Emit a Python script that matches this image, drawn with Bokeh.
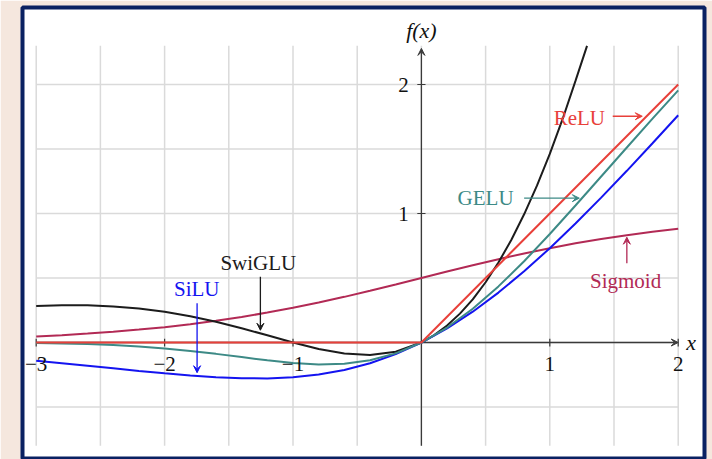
from bokeh.plotting import figure
from bokeh.models import Range1d, Arrow, VeeHead, ColumnDataSource
from bokeh.core.properties import value
from bokeh.embed import file_html
from bokeh.resources import INLINE

# Sample positions and function values of the activation curves
X = [-3.0, -2.8, -2.6, -2.4, -2.2, -2.0, -1.8, -1.6, -1.4, -1.2, -1.0, -0.8, -0.6,
     -0.4, -0.2, 0.0, 0.2, 0.4, 0.6, 0.8, 1.0, 1.2, 1.4, 1.6, 1.8, 2.0]
SIGMOID = [0.047, 0.057, 0.069, 0.083, 0.100, 0.119, 0.142, 0.168, 0.198, 0.232, 0.269,
           0.310, 0.354, 0.401, 0.450, 0.500, 0.550, 0.599, 0.646, 0.690, 0.731, 0.769,
           0.802, 0.832, 0.858, 0.881]
SILU = [-0.142, -0.160, -0.180, -0.200, -0.220, -0.238, -0.255, -0.269, -0.277, -0.278,
        -0.269, -0.248, -0.213, -0.161, -0.090, 0.0, 0.110, 0.239, 0.387, 0.552, 0.731,
        0.922, 1.123, 1.331, 1.545, 1.762]
GELU = [-0.004, -0.007, -0.012, -0.020, -0.031, -0.046, -0.065, -0.088, -0.113, -0.138,
        -0.159, -0.170, -0.165, -0.138, -0.084, 0.0, 0.116, 0.262, 0.435, 0.630, 0.841,
        1.062, 1.287, 1.512, 1.735, 1.954]
SWIGLU_X = [-3.0, -2.8, -2.6, -2.4, -2.2, -2.0, -1.8, -1.6, -1.4, -1.2, -1.0, -0.8, -0.6,
            -0.4, -0.2, 0.0, 0.1, 0.2, 0.3, 0.4, 0.5, 0.6, 0.7, 0.8, 0.9, 1.0, 1.1, 1.2, 1.29]
SWIGLU = [0.284, 0.289, 0.288, 0.280, 0.264, 0.238, 0.204, 0.161, 0.111, 0.056, 0.0,
          -0.050, -0.085, -0.097, -0.072, 0.0, 0.058, 0.132, 0.224, 0.335, 0.467, 0.620,
          0.795, 0.994, 1.216, 1.462, 1.733, 2.028, 2.300]
RELU_X = [-3.0, 0.0, 2.0]
RELU = [0.0, 0.0, 2.0]

X_TICKS = [-3, -2, -1, 1, 2]
X_TICK_LABELS = ["\u22123", "\u22122", "\u22121", "1", "2"]
Y_TICKS = [1, 2]
Y_TICK_LABELS = ["1", "2"]
GRID_X = [-3.0, -2.5, -2.0, -1.5, -1.0, -0.5, 0.0, 0.5, 1.0, 1.5, 2.0]
GRID_Y = [-0.5, 0.0, 0.5, 1.0, 1.5, 2.0]
X_LIM = (-3.0, 2.0)
Y_LIM = (-0.8, 2.3)

C_RELU = "#e8403a"
C_GELU = "#3d8a86"
C_SILU = "#1414f0"
C_SIG = "#b22a55"
C_SWI = "#1c1c1c"
C_AXIS = "#3a3a3a"
C_GRID = "#dadada"
SERIF = value("Liberation Serif")
FS = "21px"

p = figure(width=712, height=459, output_backend="svg", toolbar_location=None,
           x_range=Range1d(-3.1067, 2.2048), y_range=Range1d(-0.8991, 2.597),
           x_axis_location=None, y_axis_location=None,
           min_border_left=22, min_border_right=8, min_border_top=7, min_border_bottom=1,
           background_fill_color="white", border_fill_color="#f5e7de",
           outline_line_color="#0a2162", outline_line_width=4)
p.grid.visible = False

# grid (drawn beneath everything else)
p.segment(x0=GRID_X, y0=[Y_LIM[0]] * len(GRID_X), x1=GRID_X, y1=[Y_LIM[1]] * len(GRID_X),
          line_color=C_GRID, line_width=1.5, level="underlay")
p.segment(x0=[X_LIM[0]] * len(GRID_Y), y0=GRID_Y, x1=[X_LIM[1]] * len(GRID_Y), y1=GRID_Y,
          line_color=C_GRID, line_width=1.5, level="underlay")

# axes through the origin, kept below the curves
p.add_layout(Arrow(end=VeeHead(size=7, fill_color=C_AXIS, line_color=C_AXIS, line_width=1),
                   x_start=X_LIM[0], y_start=0, x_end=X_LIM[1], y_end=0,
                   line_color=C_AXIS, line_width=1.3, level="underlay"))
p.add_layout(Arrow(end=VeeHead(size=7, fill_color=C_AXIS, line_color=C_AXIS, line_width=1),
                   x_start=0, y_start=Y_LIM[0], x_end=0, y_end=2.28,
                   line_color=C_AXIS, line_width=1.3, level="underlay"))
p.segment(x0=X_TICKS, y0=[-0.03] * len(X_TICKS), x1=X_TICKS, y1=[0.03] * len(X_TICKS),
          line_color=C_AXIS, line_width=1.2, level="underlay")
p.segment(x0=[-0.032] * len(Y_TICKS), y0=Y_TICKS, x1=[0.032] * len(Y_TICKS), y1=Y_TICKS,
          line_color=C_AXIS, line_width=1.2, level="underlay")

# curves
p.line(X, SIGMOID, line_color=C_SIG, line_width=2)
p.line(SWIGLU_X, SWIGLU, line_color=C_SWI, line_width=2)
p.line(X, SILU, line_color=C_SILU, line_width=2)
p.line(X, GELU, line_color=C_GELU, line_width=2)
p.line(RELU_X, RELU, line_color=C_RELU, line_width=2)

# tick labels
p.text(x=X_TICKS, y=[-0.165] * len(X_TICKS), text=X_TICK_LABELS, text_font=SERIF,
       text_font_size=FS, text_align="center", text_baseline="middle", text_color="#111111")
p.text(x=[-0.14] * len(Y_TICKS), y=Y_TICKS, text=Y_TICK_LABELS, text_font=SERIF,
       text_font_size=FS, text_align="center", text_baseline="middle", text_color="#111111")
p.text(x=[0.0], y=[2.42], text=["f(x)"], text_font=SERIF, text_font_style="italic",
       text_font_size="22px", text_align="center", text_baseline="middle", text_color="#111111")
p.text(x=[2.1], y=[0.0], text=["x"], text_font=SERIF, text_font_style="italic",
       text_font_size="22px", text_align="center", text_baseline="middle", text_color="#111111")

# curve labels with pointer arrows
labels = ColumnDataSource(dict(
    x=[1.23, 0.50, 1.59, -1.27, -1.75],
    y=[1.74, 1.12, 0.48, 0.615, 0.413],
    text=["ReLU", "GELU", "Sigmoid", "SwiGLU", "SiLU"],
    color=[C_RELU, C_GELU, C_SIG, C_SWI, C_SILU],
))
p.text(x="x", y="y", text="text", text_color="color", source=labels, text_font=SERIF,
       text_font_size=FS, text_align="center", text_baseline="middle")

pointers = [
    (1.49, 1.754, 1.72, 1.754, C_RELU),
    (0.80, 1.119, 1.23, 1.119, C_GELU),
    (1.60, 0.615, 1.60, 0.816, C_SIG),
    (-1.254, 0.509, -1.254, 0.095, C_SWI),
    (-1.747, 0.305, -1.747, -0.234, C_SILU),
]
for xs, ys, xe, ye, c in pointers:
    p.add_layout(Arrow(end=VeeHead(size=7, fill_color=c, line_color=c, line_width=1),
                       x_start=xs, y_start=ys, x_end=xe, y_end=ye,
                       line_color=c, line_width=1.3))

open("out.html", "w").write(file_html(p, INLINE))
